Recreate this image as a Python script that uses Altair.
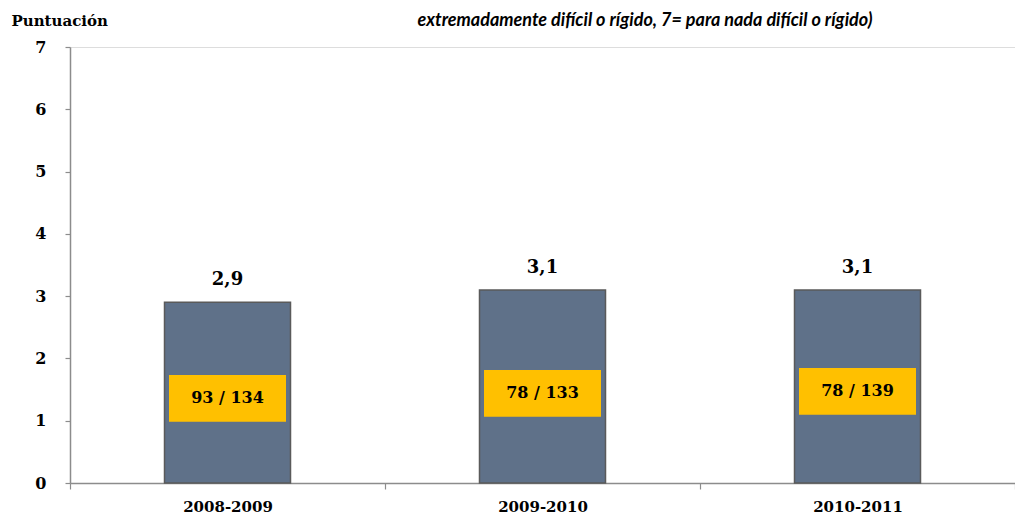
import altair as alt
import pandas as pd

periods = ["2008-2009", "2009-2010", "2010-2011"]
scores = [2.9, 3.1, 3.1]
score_labels = ["2,9", "3,1", "3,1"]
rank_labels = ["93 / 134", "78 / 133", "78 / 139"]
rank_label_pos = [1.36, 1.44, 1.47]
title_text = "extremadamente difícil o rígido, 7= para nada difícil o rígido)"

df = pd.DataFrame({
    "period": periods,
    "score": scores,
    "label": score_labels,
    "rank": rank_labels,
    "rank_pos": rank_label_pos,
})

SERIF = "DejaVu Serif"

x_scale = alt.Scale(paddingInner=0, paddingOuter=0)
y_scale = alt.Scale(domain=[0, 7], nice=False)

x_enc = alt.X("period:N", sort=periods, title=None, scale=x_scale,
              axis=alt.Axis(labelAngle=0, labelFont=SERIF, labelFontSize=15,
                            labelFontWeight="bold", labelColor="#000000",
                            labelPadding=10, tickBand="extent", tickSize=6,
                            tickColor="#8c8c8c", domainColor="#8c8c8c",
                            domainWidth=1.5, tickWidth=1.2, grid=False))

base = alt.Chart(df)

bars = base.mark_bar(color="#5f7189", stroke="#5a5a5a", strokeWidth=1.5,
                     width=alt.RelativeBandSize(0.4)).encode(
    x=x_enc,
    y=alt.Y("score:Q", scale=y_scale,
            axis=alt.Axis(values=[0, 1, 2, 3, 4, 5, 6, 7], format="d", grid=False,
                          labelFont=SERIF, labelFontSize=16, labelFontWeight="bold",
                          labelColor="#000000", labelPadding=19, tickSize=5,
                          tickColor="#8c8c8c", domainColor="#8c8c8c",
                          domainWidth=1.5, tickWidth=1.2,
                          title="Puntuación", titleAngle=0, titleFont=SERIF,
                          titleFontSize=15, titleFontWeight="bold",
                          titleColor="#000000", titleAlign="left",
                          titleBaseline="middle", titleX=-59, titleY=-27)),
)

value_text = base.mark_text(font=SERIF, fontSize=18, fontWeight="bold",
                            color="#000000", dy=-22, baseline="middle").encode(
    x=alt.X("period:N", sort=periods, scale=x_scale),
    y=alt.Y("score:Q", scale=y_scale),
    text="label:N",
)

box = base.mark_point(shape="M-1,-0.4L1,-0.4L1,0.4L-1,0.4Z", size=13689,
                      filled=True, fill="#ffc000", opacity=1, strokeWidth=0).encode(
    x=alt.X("period:N", sort=periods, scale=x_scale),
    y=alt.Y("rank_pos:Q", scale=y_scale),
)

box_text = base.mark_text(font=SERIF, fontSize=16, fontWeight="bold",
                          color="#000000", baseline="middle").encode(
    x=alt.X("period:N", sort=periods, scale=x_scale),
    y=alt.Y("rank_pos:Q", scale=y_scale),
    text="rank:N",
)

title = alt.Chart(pd.DataFrame({"t": [title_text]})).mark_text(
    font="Lato", fontSize=18, fontStyle="italic", fontWeight="bold",
    color="#000000", baseline="alphabetic", align="center").encode(
    x=alt.value(575), y=alt.value(-21), text="t:N")

chart = alt.layer(bars, value_text, box, box_text, title).properties(
    width=945, height=436,
    autosize=alt.AutoSizeParams(type="none"),
    padding={"left": 62, "top": 39, "right": 0, "bottom": 32},
).configure_view(stroke=None).configure_axis(grid=False).configure(background="#ffffff")

chart.save("out.html", embed_options={"renderer": "svg", "actions": False})
